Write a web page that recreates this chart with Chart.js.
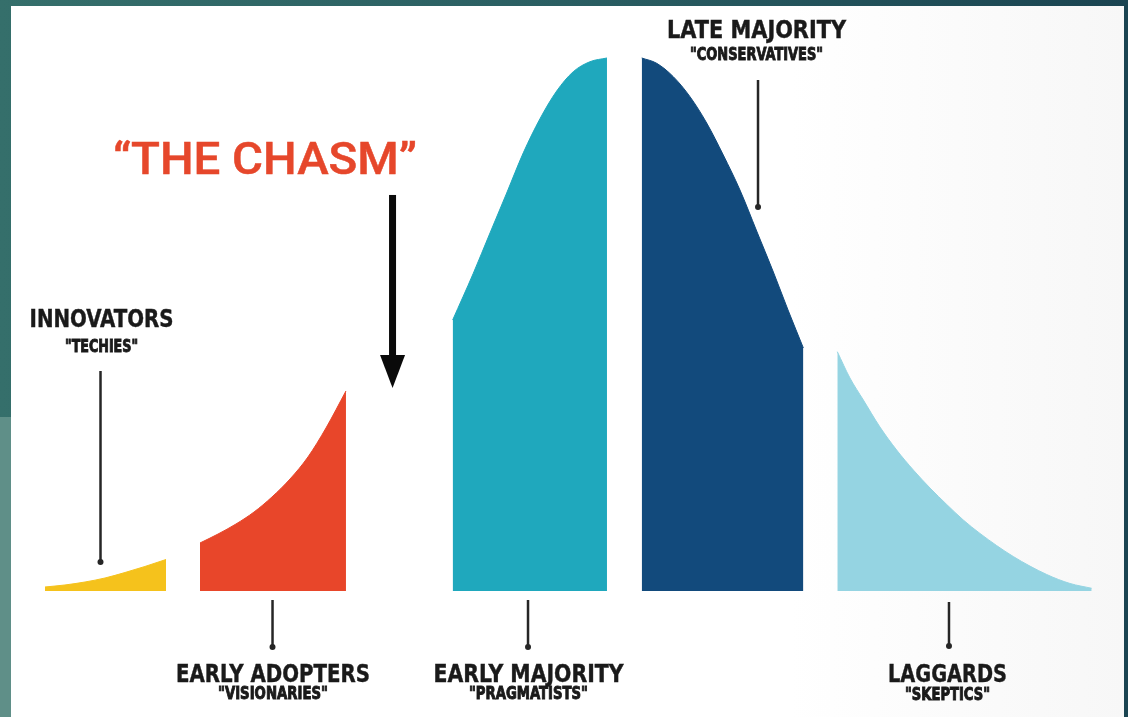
<!DOCTYPE html>
<html>
<head>
<meta charset="utf-8">
<script src="https://cdn.jsdelivr.net/npm/chart.js@4/dist/chart.umd.min.js"></script>
<style>
  html, body { margin: 0; padding: 0; width: 1128px; height: 717px; overflow: hidden; }
  body { background: linear-gradient(to right, #356f6b 0%, #2a5e62 50%, #1a4451 100%); position: relative; }
  #leftLow { position: absolute; left: 0; top: 417px; width: 11px; height: 300px; background: #5f8f88; }
  #panel { position: absolute; left: 11px; top: 6px; width: 1113px; height: 711px; background: linear-gradient(to right, #ffffff 0%, #ffffff 70%, #f7f7f7 100%); }
  #c { position: absolute; left: 0; top: 0; }
</style>
</head>
<body>
<div id="leftLow"></div>
<div id="panel"></div>
<canvas id="c" width="1128" height="717"></canvas>
<script>
// ---- Data (adoption curve segments, x = adoption timeline units, y = % of peak adoption density)
const segments = ['Innovators', 'Early Adopters', 'Early Majority', 'Late Majority', 'Laggards'];
const subtitles = ['"TECHIES"', '"VISIONARIES"', '"PRAGMATISTS"', '"CONSERVATIVES"', '"SKEPTICS"'];

const innovatorsX = [3.99, 5.76, 7.54, 9.31, 11.08, 12.85, 14.72];
const innovatorsY = [0.75, 1.13, 1.69, 2.44, 3.47, 4.60, 5.91];

const earlyAdoptersX = [17.73, 19.33, 20.92, 22.52, 24.11, 25.71, 27.30, 28.90, 30.67];
const earlyAdoptersY = [9.01, 10.69, 12.57, 14.82, 17.64, 21.01, 25.14, 30.58, 37.52];

const earlyMajorityX = [40.13, 41.96, 43.44, 44.92, 46.39, 47.87, 49.35, 50.82, 52.30, 53.81];
const earlyMajorityY = [50.84, 59.61, 67.17, 74.67, 82.20, 88.60, 93.80, 97.43, 99.30, 100];

const lateMajorityX = [56.89, 58.22, 59.69, 61.17, 62.65, 64.12, 65.60, 67.08, 68.56, 69.86, 71.22];
const lateMajorityY = [100, 99.0, 96.49, 92.74, 87.80, 81.80, 75.23, 67.54, 59.85, 52.72, 45.59];

const laggardsX = [74.23, 75.35, 76.54, 78.01, 79.49, 80.97, 82.45, 83.93, 85.40, 86.88, 89.83, 92.79, 94.86, 96.78];
const laggardsY = [44.90, 39.96, 35.83, 30.77, 26.45, 22.70, 19.32, 16.23, 13.32, 10.79, 6.47, 3.10, 1.41, 0.51];

const segX = [innovatorsX, earlyAdoptersX, earlyMajorityX, lateMajorityX, laggardsX];
const segY = [innovatorsY, earlyAdoptersY, earlyMajorityY, lateMajorityY, laggardsY];

// ---- Styles
const segColors = ['#f5c21c', '#e8462a', '#1fa8bd', '#124a7c', '#95d4e2'];

// Annotation anchors (in data units) – label centre x, arrow extents
const labelCfg = [
  { x: 9.0,  titleY: 49.53, subY: 44.84, titleW: 144, subW: 73 },
  { x: 24.2, titleY: -17.07, subY: -20.26, titleW: 194, subW: 110 },
  { x: 46.85, titleY: -17.07, subY: -20.26, titleW: 190, subW: 119 },
  { x: 67.07, titleY: 103.75, subY: 99.62, titleW: 179, subW: 133 },
  { x: 84.0, titleY: -17.07, subY: -20.45, titleW: 119, subW: 85 }
];
const arrowCfg = [
  { x: 8.91,  y0: 41.28, y1: 5.44 },
  { x: 24.16, y0: -1.69, y1: -10.51 },
  { x: 46.81, y0: -1.69, y1: -10.51 },
  { x: 67.20, y0: 95.87, y1: 72.05 },
  { x: 84.13, y0: -2.06, y1: -10.32 }
];
const chasmCfg = { textX: 23.49, textY: 78.24, textW: 304, arrowX: 34.80, arrowTop: 74.30, arrowTip: 38.09 };

function drawFit(ctx, text, cx, baseline, targetW, font, color, stroke) {
  ctx.save();
  ctx.font = font;
  const w = ctx.measureText(text).width;
  ctx.translate(cx, baseline);
  ctx.scale(targetW / w, 1);
  ctx.textAlign = 'center';
  ctx.textBaseline = 'alphabetic';
  ctx.fillStyle = color;
  ctx.fillText(text, 0, 0);
  if (stroke) { ctx.strokeStyle = color; ctx.lineWidth = stroke; ctx.strokeText(text, 0, 0); }
  ctx.restore();
}

const annotations = {
  id: 'annotations',
  afterDatasetsDraw(chart) {
    const ctx = chart.ctx;
    const xs = chart.scales.x, ys = chart.scales.y;
    arrowCfg.forEach(a => {
      const px = xs.getPixelForValue(a.x);
      const p0 = ys.getPixelForValue(a.y0), p1 = ys.getPixelForValue(a.y1);
      ctx.save();
      ctx.strokeStyle = '#262626';
      ctx.fillStyle = '#262626';
      ctx.lineWidth = 2.5;
      ctx.beginPath(); ctx.moveTo(px, p0); ctx.lineTo(px, p1); ctx.stroke();
      ctx.beginPath(); ctx.arc(px, p1, 3, 0, Math.PI * 2); ctx.fill();
      ctx.restore();
    });
    segments.forEach((s, i) => {
      const c = labelCfg[i];
      const px = xs.getPixelForValue(c.x);
      drawFit(ctx, s.toUpperCase(), px, ys.getPixelForValue(c.titleY), c.titleW,
        'bold 24px "DejaVu Sans Condensed", "DejaVu Sans"', '#1a1a1a', 0.4);
      drawFit(ctx, subtitles[i], px, ys.getPixelForValue(c.subY), c.subW,
        'bold 17px "DejaVu Sans Condensed", "DejaVu Sans"', '#1a1a1a', 0.9);
    });
    drawFit(ctx, '\u201CTHE CHASM\u201D', xs.getPixelForValue(chasmCfg.textX), ys.getPixelForValue(chasmCfg.textY),
      chasmCfg.textW, '500 45px Roboto', '#e6472b', 0.5);
    const ax = xs.getPixelForValue(chasmCfg.arrowX);
    const at = ys.getPixelForValue(chasmCfg.arrowTop);
    const tip = ys.getPixelForValue(chasmCfg.arrowTip);
    ctx.save();
    ctx.fillStyle = '#0a0a0a';
    ctx.fillRect(ax - 3.5, at, 7, (tip - at) - 28);
    ctx.beginPath();
    ctx.moveTo(ax - 12.5, tip - 33);
    ctx.lineTo(ax + 12.5, tip - 33);
    ctx.lineTo(ax, tip);
    ctx.closePath();
    ctx.fill();
    ctx.restore();
  }
};

const datasets = segments.map((name, i) => ({
  label: name,
  data: segX[i].map((x, j) => ({ x: x, y: segY[i][j] })),
  fill: 'origin',
  backgroundColor: segColors[i],
  borderColor: segColors[i],
  borderWidth: 1,
  pointRadius: 0,
  cubicInterpolationMode: 'monotone'
}));

new Chart(document.getElementById('c'), {
  type: 'line',
  data: { datasets },
  options: {
    responsive: false,
    animation: false,
    devicePixelRatio: 1,
    layout: { padding: 0 },
    plugins: { legend: { display: false }, tooltip: { enabled: false }, title: { display: false } },
    scales: {
      x: { type: 'linear', min: 0, max: 100, display: false },
      y: { type: 'linear', min: -23.64, max: 110.88, display: false }
    }
  },
  plugins: [annotations]
});
</script>
</body>
</html>
